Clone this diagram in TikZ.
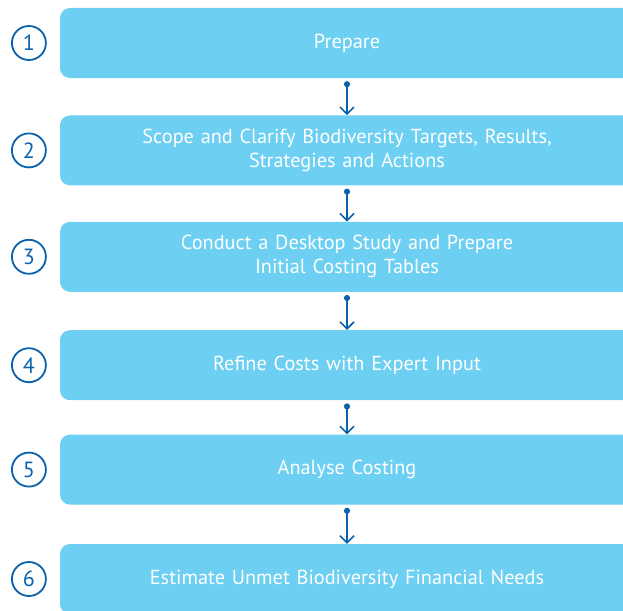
\documentclass[tikz,border=0pt]{standalone}
\usepackage{fontspec}
\setmainfont{PT Sans}
\usetikzlibrary{positioning,arrows.meta}
\definecolor{stepfill}{HTML}{6DCFF2}
\definecolor{stepblue}{HTML}{0B62AC}

\begin{document}
\begin{tikzpicture}[x=1pt,y=-1pt,node distance=37pt,
  stepbox/.style={fill=stepfill,rounded corners=10pt,minimum width=574pt,
    minimum height=70pt,text width=540pt,align=center,text=white,
    font=\fontsize{20.3}{24}\selectfont,inner sep=0pt},
  numcirc/.style={circle,draw=stepblue,line width=1.8pt,minimum size=34pt,
    inner sep=0pt,text=stepblue,font=\fontsize{22}{22}\selectfont},
  flow/.style={stepblue,line width=1.8pt,
    {Circle[length=6pt]}-{Straight Barb[length=7pt,width=14pt,line width=1.6pt]}}]
\useasboundingbox (0,0) rectangle (623,610);
\clip (0,0) rectangle (623,610);
\node[stepbox] (s1) at (347,43) {Prepare};
\node[stepbox,below=of s1] (s2) {Scope and Clarify Biodiversity Targets, Results,\\Strategies and Actions};
\node[stepbox,below=36pt of s2] (s3) {Conduct a Desktop Study and Prepare\\Initial Costing Tables};
\node[stepbox,below=38pt of s3] (s4) {Refine Costs with Expert Input};
\node[stepbox,below=34pt of s4] (s5) {Analyse Costing};
\node[stepbox,below=39pt of s5] (s6) {Estimate Unmet Biodiversity Financial Needs};
% step numbers
\foreach \i in {1,...,6}
  \node[numcirc,left=13pt of s\i.west] (n\i) {\i};
% connectors
\foreach \i [count=\j from 2] in {1,...,5}
  \draw[flow] ([yshift=-3pt]s\i.south) -- (s\j.north);
\end{tikzpicture}
\end{document}
